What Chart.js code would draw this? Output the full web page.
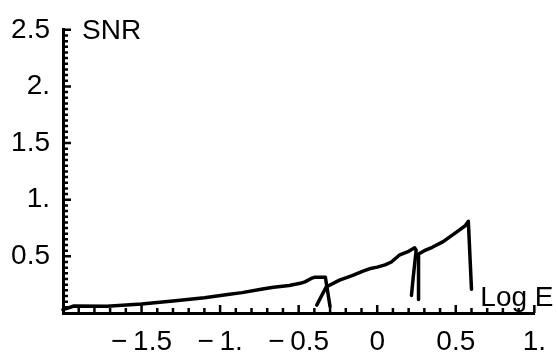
<!DOCTYPE html>
<html>
<head>
<meta charset="utf-8">
<script src="https://cdn.jsdelivr.net/npm/chart.js@4/dist/chart.umd.min.js"></script>
<style>
    html, body { margin: 0; padding: 0; background: #fff; }
    #wrap { width: 558px; height: 354px; position: relative; }
</style>
</head>
<body>
<div id="wrap"><canvas id="myChart" width="558" height="354"></canvas></div>
<script>
// log E / SNR, one array pair per drawn stroke
const logE1 = [-2.0, -1.93, -1.72, -1.5, -1.3, -1.1, -0.94, -0.86, -0.73, -0.66, -0.56, -0.49, -0.46, -0.42, -0.40, -0.33, -0.30];
const snr1 = [0.03, 0.062, 0.06, 0.08, 0.105, 0.135, 0.165, 0.18, 0.212, 0.228, 0.243, 0.262, 0.275, 0.305, 0.315, 0.315, 0.055];

const logE2 = [-0.385, -0.325, -0.24, -0.16, -0.09, -0.05, 0.0, 0.05, 0.09, 0.14, 0.2, 0.225, 0.238, 0.248, 0.228, 0.218];
const snr2 = [0.07, 0.23, 0.29, 0.33, 0.37, 0.39, 0.405, 0.425, 0.45, 0.51, 0.545, 0.565, 0.575, 0.555, 0.3, 0.155];

const logE3 = [0.263, 0.263, 0.3, 0.35, 0.42, 0.46, 0.52, 0.56, 0.58, 0.6];
const snr3 = [0.12, 0.52, 0.55, 0.58, 0.63, 0.67, 0.73, 0.77, 0.81, 0.21];

const xTickValues = [-2, -1.5, -1, -0.5, 0, 0.5, 1];
const xTickLabels = ['', '\u2212\u20091.5', '\u2212\u20091.', '\u2212\u20090.5', '0', '0.5', '1.'];
const yTickValues = [0, 0.5, 1, 1.5, 2, 2.5];
const yTickLabels = ['', '0.5', '1.', '1.5', '2.', '2.5'];

const FONT = "'Liberation Sans', Arial, sans-serif";
const FONT_SIZE = 28;

function toPoints(xs, ys) {
    return xs.map((v, i) => ({ x: v, y: ys[i] }));
}

function stroke(xs, ys) {
    return {
        data: toPoints(xs, ys),
        showLine: true,
        borderColor: '#000',
        borderWidth: 3.5,
        pointRadius: 0,
        tension: 0,
        borderJoinStyle: 'round',
        borderCapStyle: 'round',
        clip: false
    };
}

// little inward tick marks and the two axis captions, the Mathematica way
const axisDecor = {
    id: 'axisDecor',
    afterDraw(chart) {
        const ctx = chart.ctx;
        const x = chart.scales.x;
        const y = chart.scales.y;
        const x0 = x.getPixelForValue(-2);
        const y0 = y.getPixelForValue(0);
        ctx.save();
        ctx.strokeStyle = '#000';
        ctx.lineWidth = 2.5;
        ctx.beginPath();
        for (let i = 1; i <= 30; i++) {
            const px = x.getPixelForValue(-2 + i * 0.1);
            const len = i % 5 === 0 ? 8 : 5;
            ctx.moveTo(px, y0);
            ctx.lineTo(px, y0 - len);
        }
        for (let i = 1; i <= 50; i++) {
            const py = y.getPixelForValue(i * 0.05);
            const len = i % 10 === 0 ? 8 : 5;
            ctx.moveTo(x0, py);
            ctx.lineTo(x0 + len, py);
        }
        ctx.stroke();

        ctx.fillStyle = '#000';
        ctx.font = FONT_SIZE + 'px ' + FONT;
        ctx.textAlign = 'left';
        ctx.textBaseline = 'middle';
        ctx.fillText('SNR', x0 + 19, y.getPixelForValue(2.5) + 1);
        ctx.textBaseline = 'alphabetic';
        ctx.fillText('Log E', x.getPixelForValue(1) - 54, y0 - 7);
        ctx.restore();
    }
};

const ctx = document.getElementById('myChart').getContext('2d');
new Chart(ctx, {
    type: 'scatter',
    data: {
        datasets: [stroke(logE1, snr1), stroke(logE2, snr2), stroke(logE3, snr3)]
    },
    options: {
        responsive: false,
        animation: false,
        events: [],
        layout: { padding: { left: 0, right: 23, top: 25, bottom: 0 } },
        plugins: {
            legend: { display: false },
            tooltip: { enabled: false }
        },
        scales: {
            x: {
                type: 'linear',
                min: -2,
                max: 1,
                grid: { display: false, drawTicks: false },
                border: { display: true, color: '#000', width: 3 },
                afterBuildTicks: function (scale) {
                    scale.ticks = xTickValues.map(v => ({ value: v }));
                },
                afterFit: function (scale) {
                    scale.height = 41;
                },
                ticks: {
                    color: '#000',
                    padding: 12,
                    maxRotation: 0,
                    autoSkip: false,
                    font: { family: FONT, size: FONT_SIZE },
                    callback: function (value, index) {
                        return xTickLabels[index];
                    }
                }
            },
            y: {
                type: 'linear',
                min: 0,
                max: 2.5,
                grid: { display: false, drawTicks: false },
                border: { display: true, color: '#000', width: 3 },
                afterBuildTicks: function (scale) {
                    scale.ticks = yTickValues.map(v => ({ value: v }));
                },
                afterFit: function (scale) {
                    scale.width = 63;
                },
                ticks: {
                    color: '#000',
                    padding: 13,
                    autoSkip: false,
                    font: { family: FONT, size: FONT_SIZE },
                    callback: function (value, index) {
                        return yTickLabels[index];
                    }
                }
            }
        }
    },
    plugins: [axisDecor]
});
</script>
</body>
</html>
